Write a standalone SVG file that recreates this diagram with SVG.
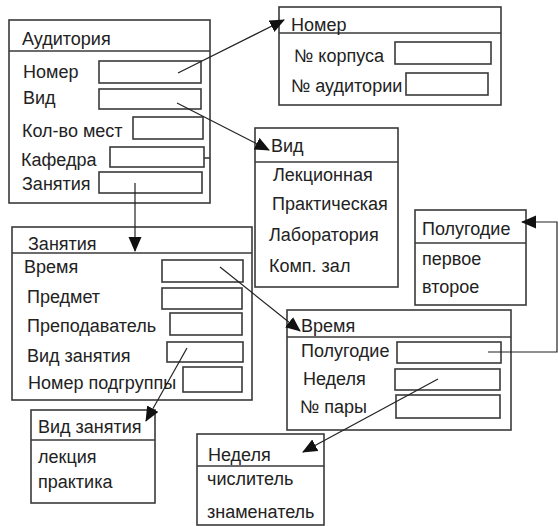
<svg xmlns="http://www.w3.org/2000/svg" width="558" height="526" viewBox="0 0 558 526">
<defs>
<marker id="arr" markerUnits="userSpaceOnUse" markerWidth="16" markerHeight="14" refX="14" refY="6.5" orient="auto">
<path d="M0,0 L15,6.5 L0,13 Z" fill="#111"/>
</marker>
<style>
rect{fill:#fff;stroke:#3a3a3a;stroke-width:1.6}
.hd{stroke:#3a3a3a;stroke-width:1.6}
text{font-family:"Liberation Sans",Arial,sans-serif;font-size:18px;fill:#222}
.c{fill:none;stroke:#222;stroke-width:1.2}
</style>
</defs>
<rect x="0" y="0" width="558" height="526" style="fill:#fff;stroke:none"/>

<g id="auditoria">
<rect x="9" y="20" width="201" height="183"/>
<line class="hd" x1="9" y1="51" x2="210" y2="51"/>
<text x="22" y="45">Аудитория</text>
<text x="23" y="78">Номер</text><rect x="99" y="61" width="102" height="22"/>
<text x="23" y="104">Вид</text><rect x="99" y="89" width="102" height="20"/>
<text x="22" y="137">Кол-во мест</text><rect x="133" y="117" width="70" height="22"/>
<text x="21" y="166">Кафедра</text><rect x="110" y="147" width="94" height="20"/>
<line class="hd" x1="204" y1="158" x2="210" y2="158"/>
<text x="22" y="190">Занятия</text><rect x="99" y="172" width="103" height="21"/>
</g>

<g id="nomer">
<rect x="279" y="7" width="222" height="98"/>
<line class="hd" x1="279" y1="33" x2="501" y2="33"/>
<text x="291" y="31">Номер</text>
<text x="294" y="62">№ корпуса</text><rect x="395" y="42" width="96" height="22"/>
<text x="291" y="92">№ аудитории</text><rect x="406" y="73" width="82" height="22"/>
</g>

<g id="vid">
<rect x="255" y="128" width="143" height="159"/>
<line class="hd" x1="255" y1="162" x2="398" y2="162"/>
<text x="271" y="152">Вид</text>
<text x="273" y="181">Лекционная</text>
<text x="272" y="210">Практическая</text>
<text x="269" y="241">Лаборатория</text>
<text x="269" y="272">Комп. зал</text>
</g>

<g id="zanyatiya">
<rect x="12" y="227" width="240" height="173"/>
<line class="hd" x1="12" y1="253" x2="252" y2="253"/>
<text x="28" y="250">Занятия</text>
<text x="24" y="273">Время</text><rect x="162" y="260" width="81" height="22"/>
<text x="27" y="303">Предмет</text><rect x="162" y="288" width="80" height="21"/>
<text x="27" y="332">Преподаватель</text><rect x="170" y="313" width="72" height="22"/>
<text x="27" y="362">Вид занятия</text><rect x="167" y="342" width="76" height="20"/>
<text x="28" y="389">Номер подгруппы</text><rect x="183" y="367" width="59" height="25"/>
</g>

<g id="polugodie">
<rect x="415" y="210" width="111" height="95"/>
<line class="hd" x1="415" y1="243" x2="526" y2="243"/>
<text x="422" y="235">Полугодие</text>
<text x="422" y="265">первое</text>
<text x="422" y="293">второе</text>
</g>

<g id="vremya">
<rect x="287" y="310" width="224" height="120"/>
<line class="hd" x1="287" y1="337" x2="511" y2="337"/>
<text x="301" y="332">Время</text>
<text x="301" y="357">Полугодие</text><rect x="397" y="342" width="104" height="21"/>
<text x="303" y="385">Неделя</text><rect x="395" y="369" width="105" height="21"/>
<text x="300" y="413">№ пары</text><rect x="396" y="395" width="104" height="23"/>
</g>

<g id="vid-zanyatiya">
<rect x="31" y="410" width="124" height="93"/>
<line class="hd" x1="31" y1="440" x2="155" y2="440"/>
<text x="38" y="433">Вид занятия</text>
<text x="38" y="463">лекция</text>
<text x="38" y="488">практика</text>
</g>

<g id="nedelya">
<rect x="197" y="434" width="127" height="91"/>
<line class="hd" x1="197" y1="466" x2="324" y2="466"/>
<text x="208" y="461">Неделя</text>
<text x="207" y="485">числитель</text>
<text x="207" y="518">знаменатель</text>
</g>

<g id="connectors">
<line class="c" x1="178" y1="73" x2="284" y2="20" marker-end="url(#arr)"/>
<line class="c" x1="177" y1="103" x2="269" y2="150" marker-end="url(#arr)"/>
<line class="c" x1="135" y1="183" x2="135" y2="251" marker-end="url(#arr)"/>
<line class="c" x1="220" y1="267" x2="300" y2="331" marker-end="url(#arr)"/>
<line class="c" x1="187" y1="348" x2="146" y2="421" marker-end="url(#arr)"/>
<line class="c" x1="438" y1="379" x2="303" y2="452" marker-end="url(#arr)"/>
<polyline class="c" points="488,352 557,352 557,222 522,222" marker-end="url(#arr)"/>
</g>
</svg>
